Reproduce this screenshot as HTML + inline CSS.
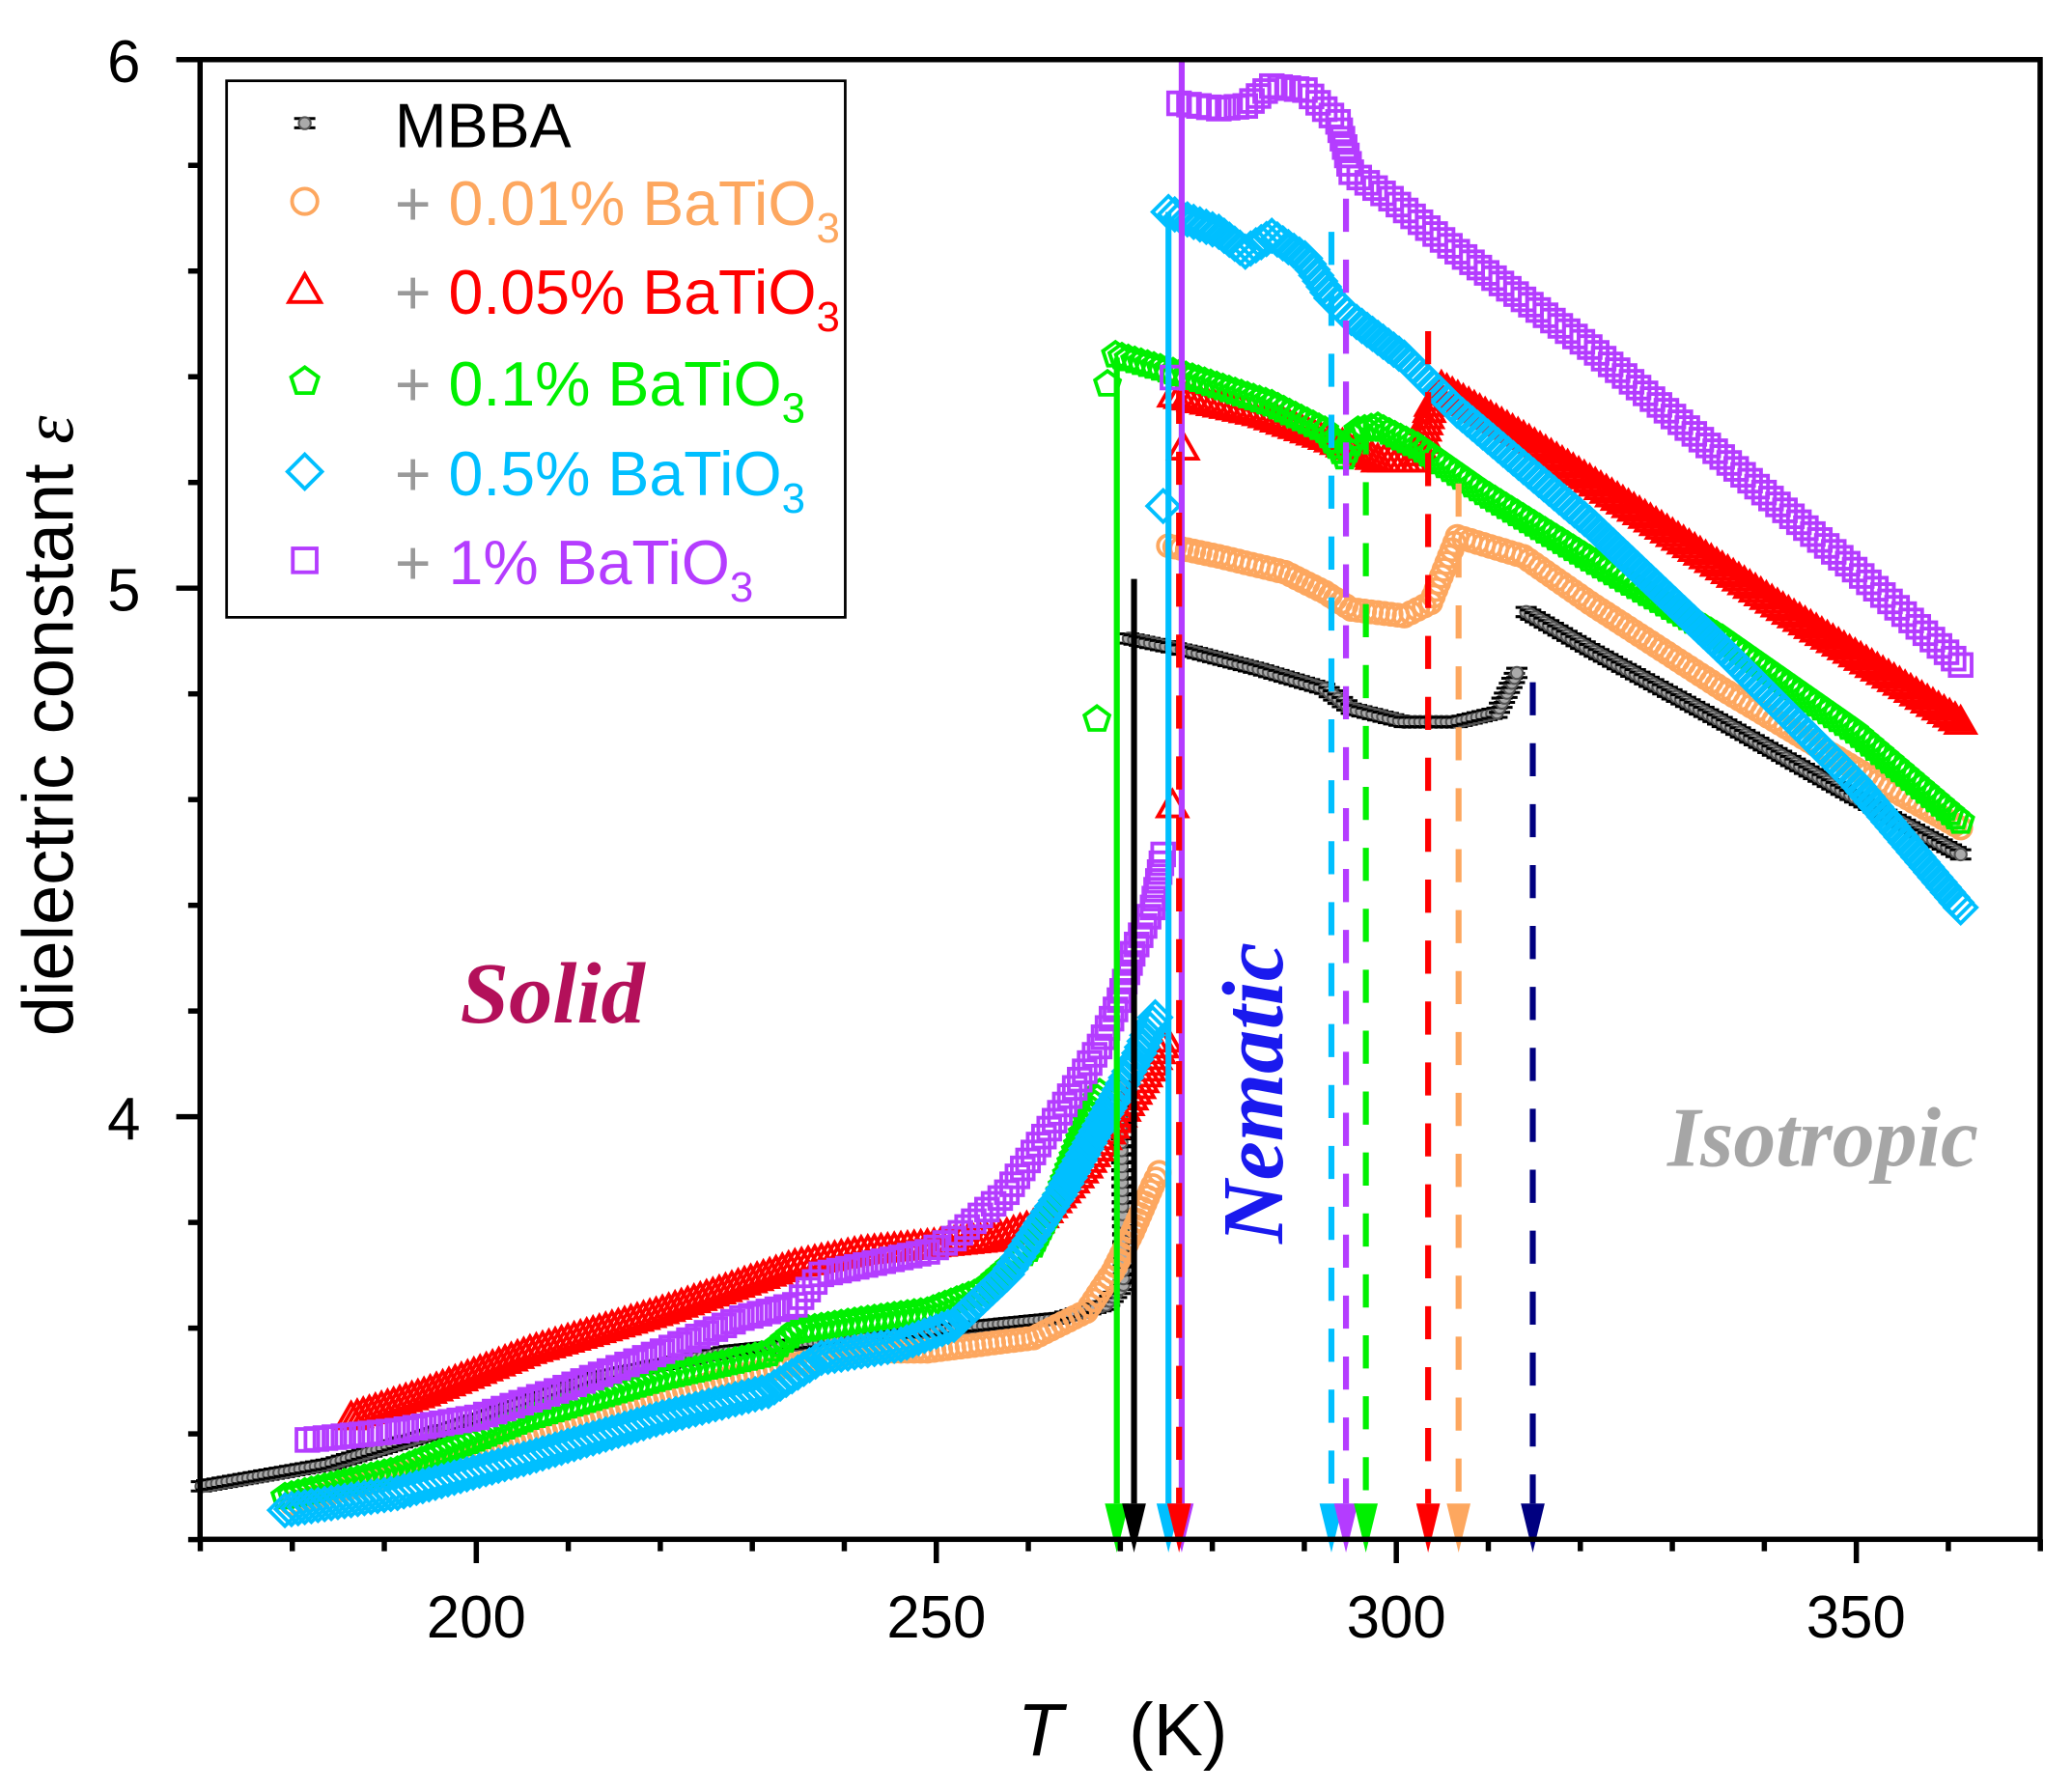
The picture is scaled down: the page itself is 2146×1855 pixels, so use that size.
<!DOCTYPE html>
<html><head><meta charset="utf-8"><style>
html,body{margin:0;padding:0;background:#fff;}
svg{display:block;}
</style></head><body>
<svg id="s" width="2146" height="1855" viewBox="0 0 1564 1352" xmlns="http://www.w3.org/2000/svg" font-family="Liberation Sans, Arial, sans-serif">
<rect width="1564" height="1352" fill="#fff"/>
<g id="data"></g>
<g id="arrows"></g>
<rect x="151" y="45" width="1389" height="1117" fill="none" stroke="#000" stroke-width="4"/>
<g id="ticks" stroke="#000" stroke-width="4"></g>
<g font-size="45" text-anchor="middle" fill="#000">
<text x="359.5" y="1236">200</text>
<text x="706.8" y="1236">250</text>
<text x="1054" y="1236">300</text>
<text x="1401" y="1236">350</text>
<text x="106" y="62" text-anchor="end">6</text>
<text x="106" y="461" text-anchor="end">5</text>
<text x="106" y="860" text-anchor="end">4</text>
</g>
<text x="768" y="1325" font-size="56" fill="#000"><tspan font-style="italic">T</tspan><tspan x="852">(K)</tspan></text>
<text transform="translate(55,548) rotate(-90)" font-size="54" text-anchor="middle" fill="#000">dielectric constant  <tspan font-family="Liberation Serif, serif" font-style="italic">ε</tspan></text>
<text x="417" y="772" font-family="Liberation Serif, serif" font-weight="bold" font-style="italic" font-size="66" fill="#b3105a" text-anchor="middle">Solid</text>
<text transform="translate(968,825) rotate(-90)" font-family="Liberation Serif, serif" font-weight="bold" font-style="italic" font-size="66" fill="#1a1aee" text-anchor="middle">Nematic</text>
<text x="1376" y="880" font-family="Liberation Serif, serif" font-weight="bold" font-style="italic" font-size="64" fill="#a6a6a6" text-anchor="middle">Isotropic</text>
<rect x="171" y="61" width="467" height="405" fill="#fff" stroke="#000" stroke-width="2"/>
<g id="leg"></g>
<g font-size="47">
<text x="298" y="111" fill="#000">MBBA</text>
<text x="298" y="170" fill="#999">+ <tspan fill="#fda75f">0.01% BaTiO<tspan font-size="32" dy="13">3</tspan></tspan></text>
<text x="298" y="237" fill="#999">+ <tspan fill="#f00">0.05% BaTiO<tspan font-size="32" dy="13">3</tspan></tspan></text>
<text x="298" y="306" fill="#999">+ <tspan fill="#00f000">0.1% BaTiO<tspan font-size="32" dy="13">3</tspan></tspan></text>
<text x="298" y="374" fill="#999">+ <tspan fill="#00bfff">0.5% BaTiO<tspan font-size="32" dy="13">3</tspan></tspan></text>
<text x="298" y="441" fill="#999">+ <tspan fill="#b43cff">1% BaTiO<tspan font-size="32" dy="13">3</tspan></tspan></text>
</g>
</svg>
<script>
var NS="http://www.w3.org/2000/svg";
function el(p,t,a){var e=document.createElementNS(NS,t);for(var k in a)e.setAttribute(k,a[k]);p.appendChild(e);return e;}
var T=document.getElementById('ticks');
function X(t){return 359.5+(t-200)*6.945;}
function Y(v){return 444-(v-5)*399;}
for(var t=170;t<=370;t+=10){var x=X(t);var maj=(t%50==0);el(T,'line',{x1:x,y1:1162,x2:x,y2:maj?1180:1171});}
for(var v=3.2;v<=6.001;v+=0.2){var y=Y(v);var maj=Math.abs(v-Math.round(v))<0.01;el(T,'line',{x1:151,y1:y,x2:maj?133:142,y2:y});}
function mk(g,type,x,y,c,s){
 var r=s/2, sw=2.8;
 if(type=='o')el(g,'circle',{cx:x,cy:y,r:r*0.8,fill:'none',stroke:c,'stroke-width':sw});
 else if(type=='t')el(g,'polygon',{points:(x)+','+(y-r)+' '+(x-r)+','+(y+r*0.75)+' '+(x+r)+','+(y+r*0.75),fill:'none',stroke:c,'stroke-width':sw});
 else if(type=='p'){var pts=[];for(var i=0;i<5;i++){var a=-Math.PI/2+i*2*Math.PI/5;pts.push((x+r*0.9*Math.cos(a))+','+(y+r*0.9*Math.sin(a)));}el(g,'polygon',{points:pts.join(' '),fill:'none',stroke:c,'stroke-width':sw});}
 else if(type=='d')el(g,'polygon',{points:x+','+(y-r)+' '+(x+r)+','+y+' '+x+','+(y+r)+' '+(x-r)+','+y,fill:'none',stroke:c,'stroke-width':sw});
 else if(type=='s')el(g,'rect',{x:x-r*0.75,y:y-r*0.75,width:r*1.5,height:r*1.5,fill:'none',stroke:c,'stroke-width':sw});
 else if(type=='m'){el(g,'line',{x1:x-8,y1:y-3.5,x2:x+8,y2:y-3.5,stroke:'#000','stroke-width':2.2});el(g,'line',{x1:x-8,y1:y+3.5,x2:x+8,y2:y+3.5,stroke:'#000','stroke-width':2.2});el(g,'circle',{cx:x,cy:y,r:4.5,fill:'#aaa',stroke:'#555','stroke-width':1.5});}
}
function series(g,type,c,pts,step,s){
 for(var i=0;i<pts.length-1;i++){var a=pts[i],b=pts[i+1];var d=Math.hypot(b[0]-a[0],b[1]-a[1]);var n=Math.max(1,Math.round(d/step));
  for(var j=0;j<n;j++){var f=j/n;mk(g,type,a[0]+(b[0]-a[0])*f,a[1]+(b[1]-a[1])*f,c,s);}}
 var l=pts[pts.length-1];mk(g,type,l[0],l[1],c,s);
}
var D=document.getElementById('data');
series(D,'m','#000',[[152,1122],[250,1105],[350,1075],[450,1040],[550,1020],[650,1010],[750,1000],[800,995],[835,985],[848,970]],4,14);
series(D,'m','#000',[[848,965],[846,820]],6,14);
series(D,'m','#000',[[852,482],[900,492],[950,505],[1000,520],[1020,535],[1060,545],[1100,545],[1130,538],[1145,508]],4,14);
series(D,'m','#000',[[1152,462],[1200,490],[1300,545],[1400,602],[1480,645]],4,14);
series(D,'o','#fda75f',[[220,1135],[350,1100],[450,1070],[550,1040],[650,1020],[700,1020],[780,1010],[820,990],[840,960],[855,930],[870,895],[875,885]],5,20);
series(D,'o','#fda75f',[[882,412],[920,420],[970,432],[1000,447],[1020,460],[1060,465],[1080,455],[1090,430],[1100,405],[1150,420],[1200,455],[1300,520],[1400,580],[1480,625]],5,20);
series(D,'t','#f00',[[265,1070],[320,1052],[400,1020],[500,990],[600,955],[650,945],[700,940],[750,935],[780,925],[820,880],[860,820],[880,785]],5,22);
mk(D,'t',885,608,'#f00',22);mk(D,'t',893,338,'#f00',22);
series(D,'t','#f00',[[886,298],[950,312],[1000,330],[1040,347],[1070,347],[1080,305],[1088,292],[1150,330],[1250,395],[1350,462],[1480,545]],5,22);
series(D,'p','#00f000',[[215,1130],[300,1110],[400,1070],[500,1040],[580,1022],[600,1005],[650,997],[700,990],[740,975],[780,940],[800,900],[815,860],[830,825]],5,22);
mk(D,'p',828,543,'#00f000',22);mk(D,'p',836,290,'#00f000',22);
series(D,'p','#00f000',[[842,268],[900,285],[960,305],[1000,325],[1015,345],[1025,325],[1040,322],[1070,337],[1120,372],[1200,422],[1300,482],[1400,552],[1480,620]],5,22);
series(D,'d','#00bfff',[[215,1140],[300,1127],[400,1100],[500,1070],[580,1050],[620,1025],[680,1015],[720,1000],[760,962],[800,902],[840,832],[860,795],[872,768]],5,24);
mk(D,'d',878,382,'#00bfff',24);
series(D,'d','#00bfff',[[882,160],[920,175],[940,190],[960,178],[985,195],[1005,225],[1020,240],[1060,270],[1100,310],[1200,395],[1300,490],[1400,590],[1480,685]],5,24);
series(D,'s','#b43cff',[[232,1087],[300,1080],[360,1070],[420,1050],[500,1020],[560,995],[600,985],[620,962],[700,945],[720,935],[760,900],[800,840],[830,790],[845,755],[855,720],[870,685],[878,645]],7,22);
mk(D,'s',885,285,'#b43cff',22);
series(D,'s','#b43cff',[[890,78],[920,82],[940,80],[960,65],[985,68],[1010,92],[1020,130],[1050,150],[1100,190],[1200,262],[1300,345],[1400,430],[1480,502]],7,22);
var A=document.getElementById('arrows');
function arr(x,y0,c,dash,w){var a={x1:x,y1:y0,x2:x,y2:1135,stroke:c,'stroke-width':w||4.5};if(dash)a['stroke-dasharray']='25 21';el(A,'line',a);
 el(A,'polygon',{points:(x-9)+',1135 '+(x+9)+',1135 '+x+',1172',fill:c});}
arr(843,270,'#00f000');
arr(856,437,'#000');
arr(882,160,'#00bfff');
arr(892,45,'#b43cff');
arr(890,295,'#f00',true);
arr(1005,175,'#00bfff',true);
arr(1016,150,'#b43cff',true);
arr(1031,318,'#00f000',true);
arr(1078,250,'#f00',true);
arr(1101,365,'#fda75f',true);
arr(1157,515,'#000080',true);
var L=document.getElementById('leg');
mk(L,'m',230,93,'#000',14);
mk(L,'o',230,152,'#fda75f',24);
mk(L,'t',230,219,'#f00',24);
mk(L,'p',230,288,'#00f000',24);
mk(L,'d',230,356,'#00bfff',26);
mk(L,'s',230,423,'#b43cff',24);
</script>
</body></html>
